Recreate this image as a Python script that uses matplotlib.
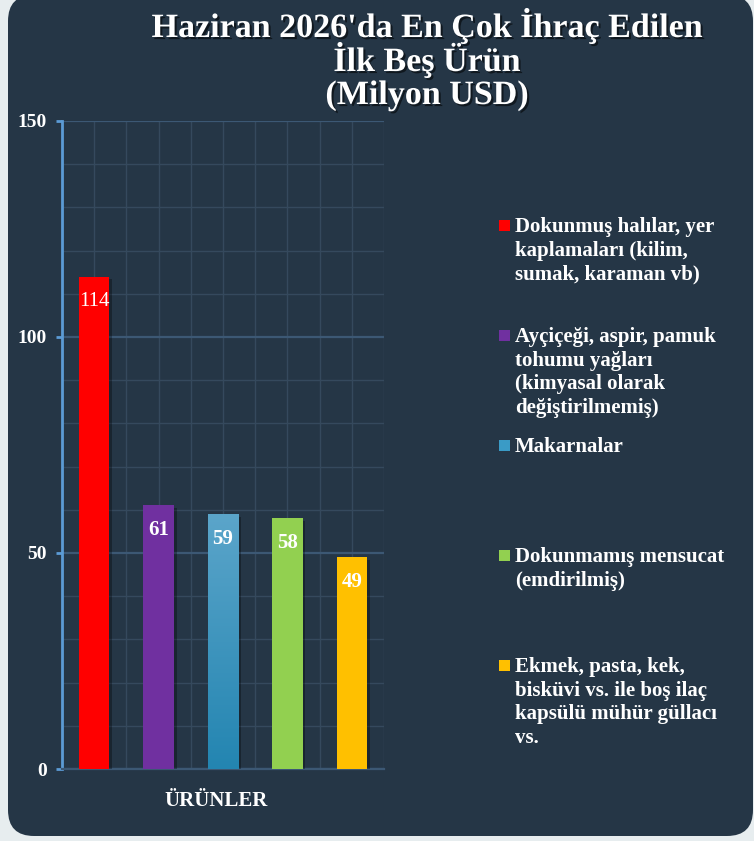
import numpy as np
import matplotlib.pyplot as plt
import matplotlib.patheffects as pe
from matplotlib.patches import FancyBboxPatch, Rectangle
from matplotlib.colors import LinearSegmentedColormap
from matplotlib.transforms import IdentityTransform

# data
products = [
    "Dokunmuş halılar, yer\nkaplamaları (kilim,\nsumak, karaman vb)",
    "Ayçiçeği, aspir, pamuk\ntohumu yağları\n(kimyasal olarak\ndeğiştirilmemiş)",
    "Makarnalar",
    "Dokunmamış mensucat\n(emdirilmiş)",
    "Ekmek, pasta, kek,\nbisküvi vs. ile boş ilaç\nkapsülü mühür güllacı\nvs.",
]
values = [114, 61, 59, 58, 49]
bar_colors = ['#ff0000', '#7030a0', '#3a9bc6', '#92d050', '#ffc000']
label_weights = ['normal', 'bold', 'bold', 'bold', 'bold']
y_ticks = [0, 50, 100, 150]
title_lines = ["Haziran 2026'da En Çok İhraç Edilen", "İlk Beş Ürün", "(Milyon USD)"]
x_label = "ÜRÜNLER"

W, H = 754, 841
SERIF = 'Liberation Serif'
PANEL = '#253646'
GRID = '#35495d'
GRID_MAJOR = '#3c5874'
BLUE_AXIS = '#5b9bd5'


def fx(x):
    return x / W


def fy(y):
    return 1 - y / H


fig = plt.figure(figsize=(W / 100, H / 100), dpi=100)
fig.patch.set_facecolor('#e7edef')

# dark rounded panel behind everything
panel = FancyBboxPatch((8, 5), 745, 841, boxstyle="round,pad=0,rounding_size=26",
                       transform=IdentityTransform(), facecolor=PANEL, edgecolor='none', zorder=0)
fig.add_artist(panel)

# plot area
ax = fig.add_axes([fx(62), fy(769), (384 - 62) / W, (769 - 121) / H])
ax.set_facecolor('none')
x = np.arange(len(values))
shadow = [pe.withSimplePatchShadow(offset=(2, -2), shadow_rgbFace='black', alpha=0.3)]
bars = ax.bar(x, values, width=0.47, color=bar_colors, zorder=3, path_effects=shadow)

# gradient fill for the blue bar
b = bars[2]
grad_cmap = LinearSegmentedColormap.from_list('makarna', ['#2385b1', '#5ba5ca'])
im = ax.imshow(np.linspace(0, 1, 256).reshape(-1, 1), cmap=grad_cmap, origin='lower', aspect='auto',
               extent=[b.get_x(), b.get_x() + b.get_width(), 0, b.get_height()], zorder=3.5)
im.set_clip_path(b)

ax.set_xlim(-0.5, len(values) - 0.5)
ax.set_ylim(0, 150)

# grid
ax.set_yticks(y_ticks)
ax.set_yticks(np.arange(0, 151, 10), minor=True)
ax.set_xticks(x)
ax.set_xticks(np.arange(-0.5, len(values), 1), minor=True)
ax.set_axisbelow(True)
ax.grid(which='minor', color=GRID, lw=1)
ax.grid(which='major', axis='x', color=GRID, lw=1)
ax.grid(which='major', axis='y', color=GRID_MAJOR, lw=1.6)

ax.tick_params(axis='x', which='both', length=0, labelbottom=False)
ax.tick_params(axis='y', which='minor', length=0)
ax.tick_params(axis='y', which='major', length=4.3, width=2, color=BLUE_AXIS, pad=6.5,
               labelcolor='white', labelsize=14)
for lab in ax.get_yticklabels():
    lab.set_fontfamily(SERIF)
    lab.set_fontweight('bold')

for s in ['top', 'right']:
    ax.spines[s].set_visible(False)
ax.spines['left'].set_color(BLUE_AXIS)
ax.spines['left'].set_linewidth(2)
ax.spines['bottom'].set_color(GRID_MAJOR)
ax.spines['bottom'].set_linewidth(1.6)

# value labels inside the bars
for xi, v, w in zip(x, values, label_weights):
    ax.annotate(str(v), (xi, v), xytext=(0, -18), textcoords='offset points', ha='center', va='center',
                color='white', fontsize=15, fontweight=w, family=SERIF, zorder=5)

ax.set_xlabel(x_label, color='white', fontsize=15, fontweight='bold', family=SERIF)
ax.xaxis.set_label_coords((216 - 62) / 322, -(801 - 769) / 648)
ax.xaxis.label.set_va('center')

# title
title_shadow = [pe.withSimplePatchShadow(offset=(1.5, -1.5), shadow_rgbFace='black', alpha=0.55)]
for line, yb in zip(title_lines, [37, 71, 104]):
    fig.text(fx(427), fy(yb), line, ha='center', va='baseline', color='white', fontsize=24.5,
             fontweight='bold', family=SERIF, path_effects=title_shadow)

# legend drawn by hand, one slot per product
for i, (name, c) in enumerate(zip(products, bar_colors)):
    top = 220 + 110 * i
    fig.add_artist(Rectangle((499, H - top - 11), 11, 11, transform=IdentityTransform(),
                             facecolor=c, edgecolor='none'))
    fig.text(fx(515), fy(top - 3), name, ha='left', va='top', color='white', fontsize=15,
             fontweight='bold', family=SERIF, linespacing=1.24)

fig.savefig('out.png', dpi=100, facecolor=fig.get_facecolor())
